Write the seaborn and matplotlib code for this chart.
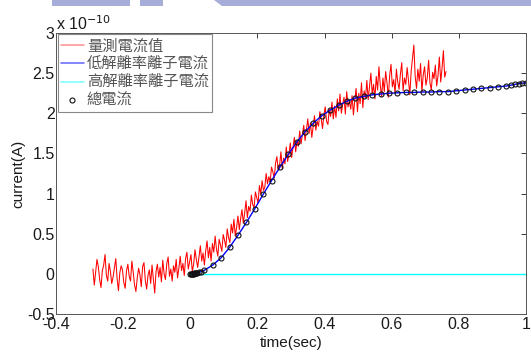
import numpy as np
import pandas as pd
import matplotlib
matplotlib.use("Agg")
import matplotlib.pyplot as plt
from matplotlib.patches import Rectangle, Polygon
import seaborn as sns

# Measured current (units of 1e-10 A), sampled every 4 ms starting at t = -0.29 s
MEAS_T0 = -0.29
MEAS_DT = 0.004
measured = [
    0.06, -0.14, 0.02, 0.18, 0.09, -0.07, -0.17, 0.04, 0.11, 0.24, -0.02, -0.09,
    0.13, 0.03, -0.12, -0.04, 0.08, 0.19, -0.06, -0.21, 0.01, 0.10, 0.05, -0.11,
    -0.18, 0.04, 0.12, -0.03, -0.09, 0.16, 0.02, -0.14, -0.22, -0.05, 0.07, -0.01,
    -0.16, 0.09, 0.14, -0.08, -0.19, -0.02, 0.05, -0.12, 0.11, -0.06, -0.24, 0.03,
    0.12, -0.04, 0.08, -0.10, 0.17, 0.00, -0.07, 0.13, 0.21, -0.03, 0.06, -0.09,
    0.10, 0.02, 0.18, -0.05, 0.07, 0.22, 0.04, 0.13, -0.02, 0.19, 0.27, 0.06,
    0.15, 0.24, 0.03, 0.12, 0.30, 0.18, 0.08, 0.21, 0.35, 0.16, 0.26, 0.11,
    0.29, 0.41, 0.20, 0.33, 0.16, 0.38, 0.27, 0.47, 0.31, 0.22, 0.43, 0.36,
    0.28, 0.49, 0.42, 0.33, 0.56, 0.45, 0.39, 0.62, 0.51, 0.68, 0.47, 0.58,
    0.72, 0.55, 0.69, 0.80, 0.63, 0.76, 0.91, 0.70, 0.84, 0.78, 0.98, 0.86,
    0.83, 1.02, 0.95, 0.88, 1.10, 0.99, 1.16, 1.04, 1.08, 1.25, 1.12, 1.21,
    1.15, 1.33, 1.27, 1.19, 1.38, 1.46, 1.29, 1.35, 1.52, 1.31, 1.44, 1.37,
    1.58, 1.40, 1.49, 1.63, 1.45, 1.57, 1.70, 1.52, 1.66, 1.59, 1.78, 1.62,
    1.74, 1.85, 1.66, 1.80, 1.93, 1.75, 1.88, 1.70, 1.83, 1.97, 1.79, 1.90,
    1.84, 2.02, 1.93, 1.81, 1.98, 2.08, 1.90, 1.86, 2.05, 1.96, 2.14, 1.93,
    2.09, 1.95, 2.18, 2.03, 2.24, 2.00, 2.11, 2.20, 1.99, 2.27, 2.08, 2.15,
    2.05, 2.22, 1.98, 2.16, 2.31, 2.02, 2.25, 2.12, 2.38, 2.07, 2.28, 2.19,
    2.41, 2.17, 2.33, 2.50, 2.24, 2.36, 2.18, 2.46, 2.29, 2.58, 2.35, 2.21,
    2.44, 2.27, 2.52, 2.38, 2.20, 2.47, 2.61, 2.33, 2.42, 2.25, 2.55, 2.39,
    2.30, 2.49, 2.63, 2.28, 2.44, 2.36, 2.57, 2.41, 2.23, 2.52, 2.68, 2.85,
    2.46, 2.31, 2.55, 2.40, 2.62, 2.27, 2.48, 2.58, 2.35, 2.44, 2.66, 2.38,
    2.29, 2.51, 2.43, 2.60, 2.34, 2.47, 2.70, 2.39, 2.56, 2.78, 2.45, 2.52,
]

# Model time points (s) and fitted ion currents (units of 1e-10 A)
t_model = [
    0.0, 0.002, 0.004, 0.006, 0.008, 0.010, 0.012, 0.014, 0.017, 0.021,
    0.026, 0.032, 0.042, 0.067, 0.092, 0.117, 0.142, 0.167, 0.192, 0.217,
    0.242, 0.267, 0.292, 0.317, 0.342, 0.367, 0.392, 0.417, 0.442, 0.467,
    0.492, 0.517, 0.542, 0.567, 0.592, 0.617, 0.642, 0.667, 0.692, 0.717,
    0.742, 0.767, 0.792, 0.817, 0.842, 0.867, 0.892, 0.917, 0.942, 0.955,
    0.967, 0.978, 0.989, 1.0,
]
low_current = [
    0.0, 0.0, 0.001, 0.002, 0.003, 0.004, 0.005, 0.007, 0.010, 0.014,
    0.020, 0.028, 0.045, 0.11, 0.20, 0.33, 0.48, 0.64, 0.81, 0.99,
    1.16, 1.33, 1.49, 1.64, 1.77, 1.88, 1.97, 2.04, 2.10, 2.15,
    2.19, 2.21, 2.23, 2.24, 2.25, 2.255, 2.26, 2.26, 2.265, 2.265,
    2.27, 2.27, 2.28, 2.29, 2.30, 2.31, 2.32, 2.33, 2.34, 2.35,
    2.36, 2.37, 2.375, 2.38,
]
high_current = [0.0] * len(t_model)

labels = ["量測電流值", "低解離率離子電流", "高解離率離子電流", "總電流"]

meas_df = pd.DataFrame({
    "t": MEAS_T0 + MEAS_DT * np.arange(len(measured)),
    "i": measured,
})
model_df = pd.DataFrame({
    "t": t_model,
    "low": low_current,
    "high": high_current,
})
model_df["total"] = model_df["low"] + model_df["high"]

sns.set_style("white")
plt.rcParams["font.family"] = ["Liberation Sans", "Noto Sans CJK TC", "DejaVu Sans"]
plt.rcParams["font.size"] = 11

fig = plt.figure(figsize=(5.31, 3.53), dpi=100)
ax = fig.add_axes([0.1055, 0.1105, 0.885, 0.796])

sns.lineplot(data=meas_df, x="t", y="i", ax=ax, color="#ff0000", lw=0.75,
             sort=False, estimator=None, label=labels[0])
sns.lineplot(data=model_df, x="t", y="low", ax=ax, color="#0000ff", lw=1.0,
             sort=False, estimator=None, label=labels[1])
sns.lineplot(data=model_df, x="t", y="high", ax=ax, color="#00ffff", lw=1.0,
             sort=False, estimator=None, label=labels[2])
sns.lineplot(data=model_df, x="t", y="total", ax=ax, color="black",
             linestyle="none", marker="o", markersize=3.6, mfc="none",
             mec="#111111", mew=0.8, sort=False, estimator=None,
             label=labels[3])

ax.set_xlim(-0.4, 1.0)
ax.set_ylim(-0.5, 3.0)
ax.set_xticks([-0.4, -0.2, 0, 0.2, 0.4, 0.6, 0.8, 1.0])
ax.set_xticklabels(["-0.4", "-0.2", "0", "0.2", "0.4", "0.6", "0.8", "1"])
ax.set_yticks([-0.5, 0, 0.5, 1, 1.5, 2, 2.5, 3])
ax.set_yticklabels(["-0.5", "0", "0.5", "1", "1.5", "2", "2.5", "3"])
ax.tick_params(direction="in", length=3.5, width=0.6, top=True, right=True,
               labelsize=11.5, colors="#1a1a1a", pad=1)
ax.tick_params(axis="x", pad=2)
for s in ax.spines.values():
    s.set_color("#555555")
    s.set_linewidth(0.7)
ax.set_xlabel("time(sec)", fontsize=11, labelpad=3, color="#1a1a1a")
ax.set_ylabel("current(A)", fontsize=11, labelpad=1, color="#1a1a1a")

ax.text(0.0, 1.0, r"x 10$^{-10}$", transform=ax.transAxes, fontsize=11.5,
        ha="left", va="bottom", color="#1a1a1a")

leg = ax.legend(loc="upper left", bbox_to_anchor=(0.004, 0.995),
                prop={"family": ["Noto Sans CJK TC", "DejaVu Sans"], "size": 11},
                frameon=True, fancybox=False, framealpha=1, edgecolor="#888888",
                handlelength=1.5, handletextpad=0.2, labelspacing=0.08,
                borderpad=0.2, borderaxespad=0)
leg.get_frame().set_linewidth(0.8)
for txt in leg.get_texts():
    txt.set_color("#555555")
for h, c in zip(leg.get_lines(), ["#ff9a9a", "#6f6fff", "#80ffff"]):
    h.set_color(c)
    h.set_linewidth(1.2)

# Banner strip along the top edge of the page
band = "#a7add9"
H, W = 353.0, 531.0
fig.add_artist(Rectangle((52 / W, 1 - 6 / H), 78 / W, 6 / H,
                         transform=fig.transFigure, color=band, lw=0))
fig.add_artist(Rectangle((140 / W, 1 - 6 / H), 23 / W, 6 / H,
                         transform=fig.transFigure, color=band, lw=0))
fig.add_artist(Polygon([(214 / W, 1), (1, 1), (1, 1 - 6 / H), (222 / W, 1 - 6 / H)],
                       closed=True, transform=fig.transFigure, color=band, lw=0))

fig.savefig("out.png", dpi=100)
